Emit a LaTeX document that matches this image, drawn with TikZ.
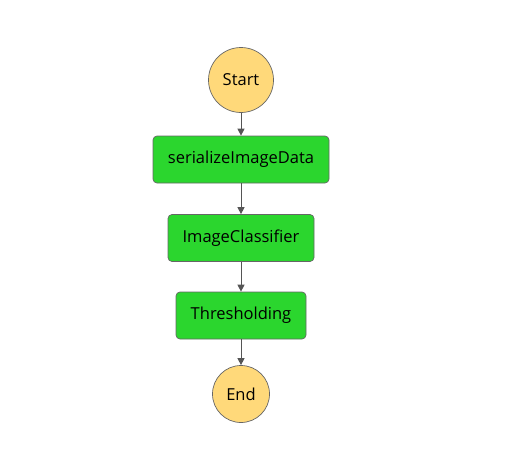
\documentclass[tikz,border=0pt]{standalone}
\usepackage{fontspec}
\setmainfont{Open Sans}
\usetikzlibrary{arrows.meta}
\definecolor{taskgreen}{HTML}{2BD62E}
\definecolor{termyellow}{HTML}{FFD97A}
\definecolor{edgegray}{HTML}{666666}
\definecolor{linegray}{HTML}{555555}
\begin{document}
\begin{tikzpicture}[x=1pt,y=-1pt,
  taskbox/.style={draw=edgegray,line width=0.7pt,fill=taskgreen,rounded corners=4pt,
    minimum height=47pt,inner sep=0pt,font=\fontsize{16.5}{19}\selectfont},
  termnode/.style={draw=edgegray,line width=0.7pt,fill=termyellow,circle,inner sep=0pt,
    font=\fontsize{16.5}{19}\selectfont},
  flow/.style={draw=linegray,line width=1pt,-{Triangle[length=7pt,width=7pt]}}]
\useasboundingbox (0,0) rectangle (509,463);
\node[termnode,minimum size=65pt] (start) at (241,80) {Start};
\node[taskbox,minimum width=176pt] (ser) at (241,159.5) {serializeImageData};
\node[taskbox,minimum width=146pt] (cls) at (241,238) {ImageClassifier};
\node[taskbox,minimum width=130pt] (thr) at (241,315.5) {Thresholding};
\node[termnode,minimum size=57pt] (end) at (241,394) {End};
\draw[flow] (start) -- (ser);
\draw[flow] (ser) -- (cls);
\draw[flow] (cls) -- (thr);
\draw[flow] (thr) -- (end);
\end{tikzpicture}
\end{document}
